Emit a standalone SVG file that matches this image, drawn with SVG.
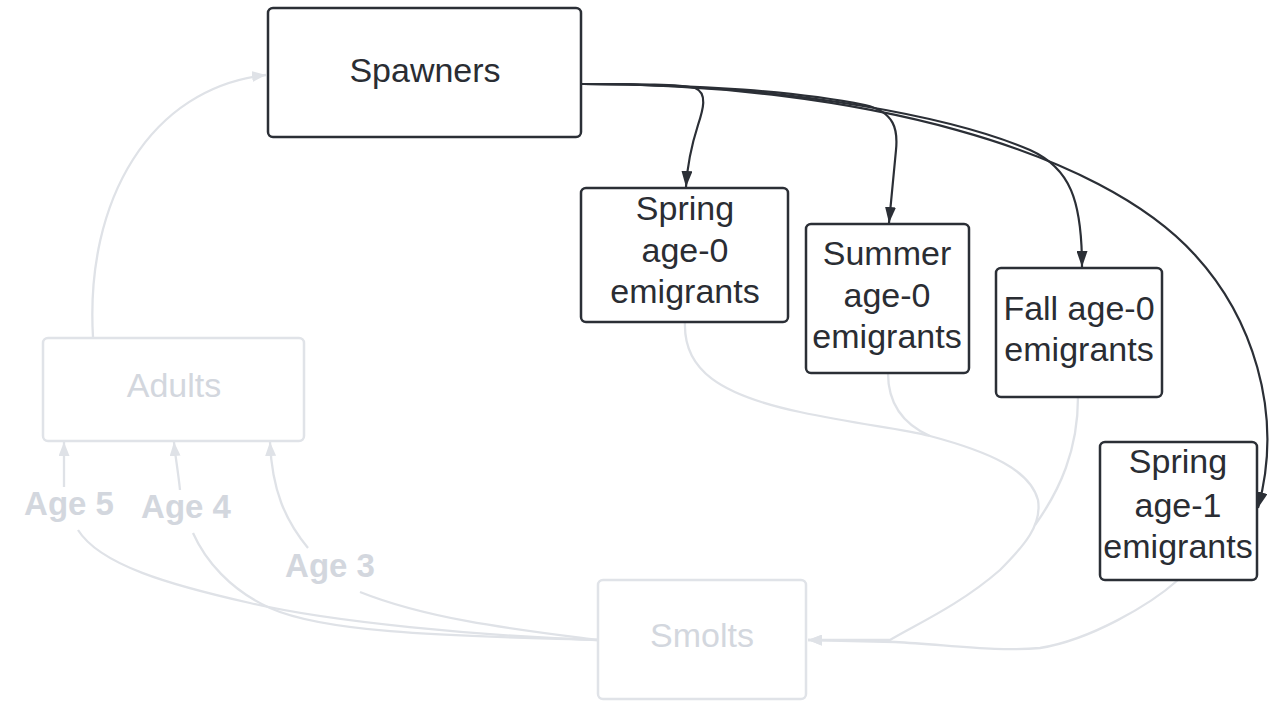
<svg xmlns="http://www.w3.org/2000/svg" width="1274" height="701" viewBox="0 0 1274 701">
<style>
.dbox{fill:#ffffff;stroke:#2b2f36;stroke-width:2.5}
.lbox{fill:#ffffff;stroke:#e0e3e8;stroke-width:2.5}
.dtxt{font-family:"Liberation Sans",Arial,sans-serif;font-size:34px;fill:#2a2d33;text-anchor:middle}
.ltxt{font-family:"Liberation Sans",Arial,sans-serif;font-size:34px;fill:#d3d7de;text-anchor:middle}
.age{font-family:"Liberation Sans",Arial,sans-serif;font-size:33px;font-weight:bold;fill:#d3d7de;text-anchor:middle}
.dline{fill:none;stroke:#2b2f36;stroke-width:2.2}
.lline{fill:none;stroke:#dfe2e7;stroke-width:2.3}
</style>
<defs>
<marker id="da" viewBox="0 0 16 11" markerWidth="16" markerHeight="11" refX="16" refY="5.5" orient="auto" markerUnits="userSpaceOnUse">
<path d="M0,0 L16,5.5 L0,11 z" fill="#2b2f36"/>
</marker>
<marker id="la" viewBox="0 0 14 11" markerWidth="14" markerHeight="11" refX="14" refY="5.5" orient="auto" markerUnits="userSpaceOnUse">
<path d="M0,0 L14,5.5 L0,11 z" fill="#dfe2e7"/>
</marker>
</defs>
<g id="connectors">
<path class="lline" d="M93,337 C 85,200 150,88 266,75" marker-end="url(#la)"/>
<path class="lline" d="M64,487 L64,442" marker-end="url(#la)"/>
<path class="lline" d="M180,490 C 178,470 175,455 174,442" marker-end="url(#la)"/>
<path class="lline" d="M308,548 C 285,520 272,490 270,442" marker-end="url(#la)"/>
<path class="lline" d="M598,640 C 480,636 330,622 250,603 C 170,585 100,565 78,530"/>
<path class="lline" d="M598,640 C 470,636 330,635 270,608 C 230,590 205,560 193,533"/>
<path class="lline" d="M598,640 C 520,630 430,620 360,592"/>
<path class="lline" d="M685,322 C 683,370 720,395 800,412 C 860,425 900,428 930,436 C 990,452 1030,470 1038,500 C 1042,525 1025,545 1000,570 C 960,605 915,625 890,640 L 808,640" marker-end="url(#la)"/>
<path class="lline" d="M888,373 C 888,405 905,425 930,436"/>
<path class="lline" d="M1078,397 C 1078,450 1060,490 1035,525"/>
<path class="lline" d="M1178,580 C 1150,605 1090,640 1040,648 C 1000,652 950,645 895,642 L 808,640" marker-end="url(#la)"/>
<path class="dline" d="M582,84 C 640,84 680,84 695,88 C 708,93 703,110 698,125 C 690,150 687,170 686,187" marker-end="url(#da)"/>
<path class="dline" d="M582,84 C 700,84 800,92 865,105 C 895,112 898,130 896,150 L 889,223" marker-end="url(#da)"/>
<path class="dline" d="M582,84 C 800,84 960,120 1030,150 C 1070,168 1082,200 1082,267" marker-end="url(#da)"/>
<path class="dline" d="M582,84 C 860,84 1100,150 1195,255 C 1250,315 1285,410 1258,508" marker-end="url(#da)"/>
</g>
<g id="spawners">
<rect class="dbox" x="268" y="8" width="313" height="129" rx="5"/>
<text class="dtxt" x="425" y="82">Spawners</text>
</g>
<g id="spring0">
<rect class="dbox" x="581" y="188" width="207" height="134" rx="5"/>
<text class="dtxt" x="685" y="220">Spring</text>
<text class="dtxt" x="685" y="262">age-0</text>
<text class="dtxt" x="685" y="303">emigrants</text>
</g>
<g id="summer0">
<rect class="dbox" x="806" y="224" width="163" height="149" rx="5"/>
<text class="dtxt" x="887" y="265">Summer</text>
<text class="dtxt" x="887" y="307">age-0</text>
<text class="dtxt" x="887" y="348">emigrants</text>
</g>
<g id="fall0">
<rect class="dbox" x="996" y="268" width="166" height="129" rx="5"/>
<text class="dtxt" x="1079" y="320">Fall age-0</text>
<text class="dtxt" x="1079" y="361">emigrants</text>
</g>
<g id="spring1">
<rect class="dbox" x="1100" y="442" width="157" height="138" rx="5"/>
<text class="dtxt" x="1178" y="473">Spring</text>
<text class="dtxt" x="1178" y="517">age-1</text>
<text class="dtxt" x="1178" y="558">emigrants</text>
</g>
<g id="adults">
<rect class="lbox" x="43" y="338" width="261" height="103" rx="5"/>
<text class="ltxt" x="174" y="397">Adults</text>
</g>
<g id="smolts">
<rect class="lbox" x="598" y="580" width="208" height="119" rx="5"/>
<text class="ltxt" x="702" y="647">Smolts</text>
</g>
<g id="labels">
<text class="age" x="69" y="515">Age 5</text>
<text class="age" x="186" y="518">Age 4</text>
<text class="age" x="330" y="577">Age 3</text>
</g>
</svg>
